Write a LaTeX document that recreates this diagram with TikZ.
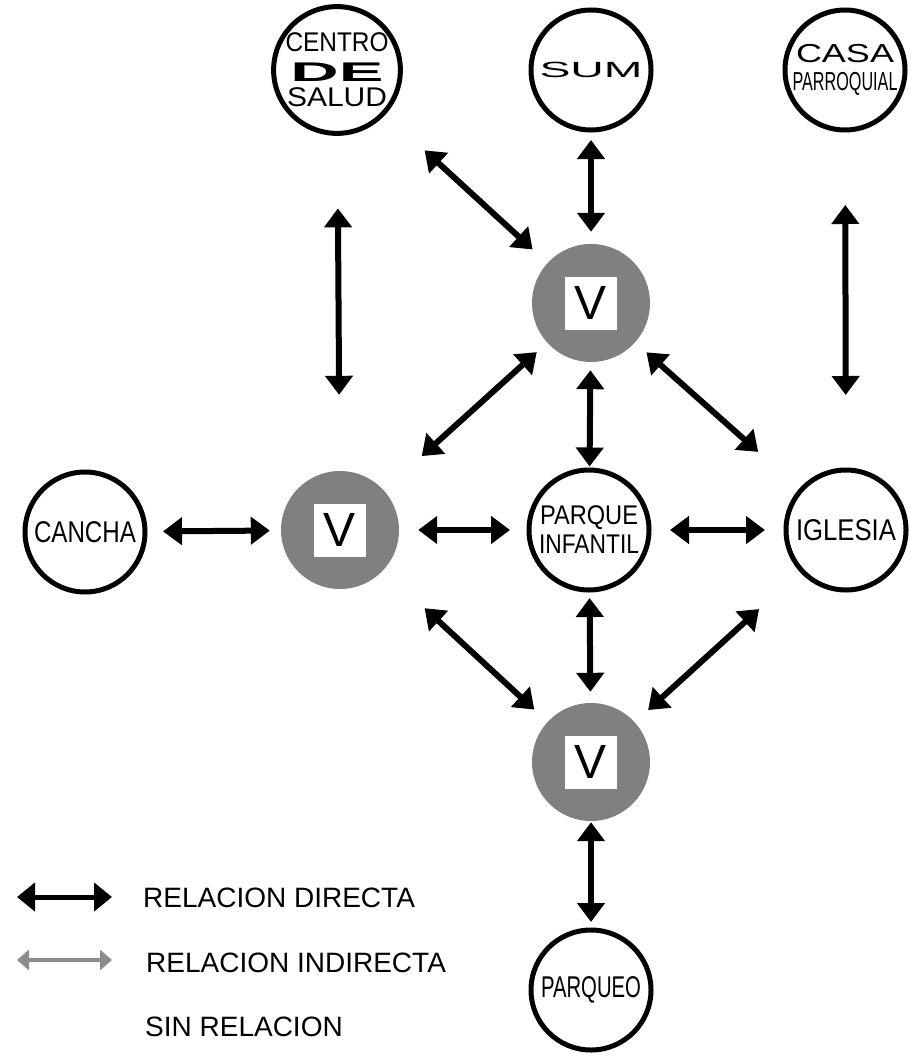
\documentclass[tikz,border=0pt]{standalone}
\usepackage{fontspec}
\setmainfont{Liberation Sans}
\usepackage{graphicx}
\usetikzlibrary{arrows.meta}
\definecolor{viagray}{HTML}{808080}
\definecolor{legendgray}{HTML}{8C8C8C}
\newcommand{\setfs}[1]{\fontsize{#1}{#1}\selectfont}
\newcommand{\fitw}[2]{\resizebox{#1}{\height}{#2}}

\begin{document}
\begin{tikzpicture}[
  x=1pt, y=-1pt,
  >={Triangle[length=19pt,width=27pt]},
  place/.style={circle, draw=black, line width=5pt, minimum size=120pt, inner sep=0pt, align=center},
  via/.style={circle, fill=viagray, minimum size=118pt, inner sep=0pt},
  tag/.style={fill=white, minimum width=52pt, minimum height=53pt, inner sep=0pt, font=\setfs{48}},
  link/.style={<->, draw=black, line width=6pt},
  legtext/.style={anchor=west, inner sep=0pt, font=\setfs{28}}
]
  \useasboundingbox (0,0) rectangle (910,1057);

  % spaces
  \node[place, font=\setfs{27}] (salud) at (337,70)
    {\fitw{103pt}{CENTRO}\\[3pt]{\bfseries\fitw{93pt}{DE}}\\[-2pt]\fitw{100pt}{SALUD}};
  \node[place, font=\setfs{22}] (sum) at (591,70) {\fitw{103pt}{SUM}};
  \node[place, font=\setfs{26}] (casa) at (845,70)
    {\fitw{98pt}{CASA}\\[2pt]\fitw{105pt}{PARROQUIAL}};
  \node[place, font=\setfs{30}] (cancha) at (85,532) {\fitw{102pt}{CANCHA}};
  \node[place, font=\setfs{27}] (parque) at (589,530)
    {\fitw{98pt}{PARQUE}\\[2pt]\fitw{100pt}{INFANTIL}};
  \node[place, font=\setfs{30}] (iglesia) at (846,530) {\fitw{100pt}{IGLESIA}};
  \node[place, font=\setfs{30}] (parqueo) at (591,990) {\fitw{100pt}{PARQUEO}};

  % vestibulos
  \node[via] (vtop) at (591,303) {};
  \node[tag] (vtopv) at (vtop) {V};
  \node[via] (vleft) at (340,530) {};
  \node[tag] (vleftv) at (vleft) {V};
  \node[via] (vbot) at (591,762) {};
  \node[tag] (vbotv) at (vbot) {V};

  % relations
  \draw[link, shorten <=7.5pt, shorten >=12pt] (sum) -- (vtop);
  \draw[link, shorten <=53pt, shorten >=20pt] (salud) -- (vtop);
  \draw[link, shorten <=72.5pt, shorten >=76pt] (salud) -- (vleft);
  \draw[link, shorten <=72.5pt, shorten >=72.5pt] (casa) -- (iglesia);
  \draw[link, shorten <=14pt, shorten >=51pt] (vtop) -- (vleft);
  \draw[link, shorten <=8pt, shorten >=1pt] (vtop) -- (parque);
  \draw[link, shorten <=15pt, shorten >=55pt] (vtop) -- (iglesia);
  \draw[link, shorten <=15.5pt, shorten >=11pt] (cancha) -- (vleft);
  \draw[link, shorten <=19pt, shorten >=16.5pt] (vleft) -- (parque);
  \draw[link, shorten <=18.5pt, shorten >=18.5pt] (parque) -- (iglesia);
  \draw[link, shorten <=56pt, shorten >=18pt] (vleft) -- (vbot);
  \draw[link, shorten <=5.5pt, shorten >=11pt] (parque) -- (vbot);
  \draw[link, shorten <=55pt, shorten >=18pt] (iglesia) -- (vbot);
  \draw[link, shorten <=1pt, shorten >=5.5pt] (vbot) -- (parqueo);

  % legend
  \coordinate (dirA) at (17,897);
  \coordinate (dirB) at (112,897);
  \coordinate (indA) at (17,960);
  \coordinate (indB) at (112,960);
  \draw[{Triangle[length=18pt,width=28pt]}-{Triangle[length=18pt,width=28pt]}, line width=5pt] (dirA) -- (dirB);
  \draw[{Triangle[length=12pt,width=20pt]}-{Triangle[length=12pt,width=20pt]}, draw=legendgray, fill=legendgray, line width=4pt] (indA) -- (indB);
  \node[legtext] (ldir) at (143,898) {RELACION DIRECTA};
  \node[legtext] (lind) at (146,963) {RELACION INDIRECTA};
  \node[legtext] (lsin) at (145,1027) {SIN RELACION};
\end{tikzpicture}
\end{document}
